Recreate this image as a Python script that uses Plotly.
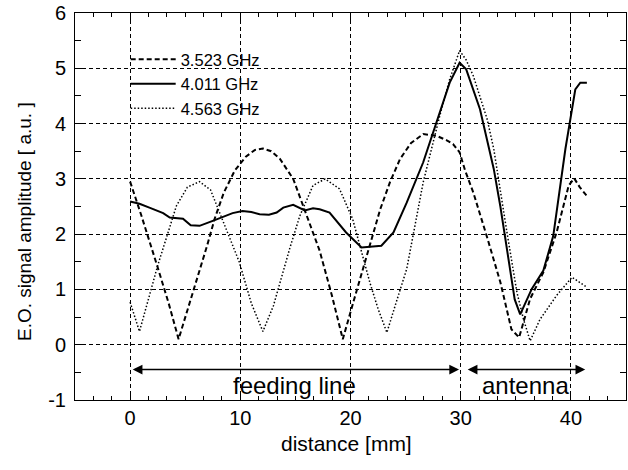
import plotly.graph_objects as go

# ---- data ----
x_3523 = [0.0, 1.0, 2.5, 3.5, 4.4, 5.2, 6.2, 7.0, 7.66, 8.5, 9.5, 10.5, 11.3, 12.05, 12.8, 13.6, 14.8, 16.0,
          17.2, 18.3, 19.3, 20.3, 21.45, 22.7, 23.6, 24.5, 25.5, 26.6, 27.8, 28.7, 29.3, 29.9, 30.4, 31.15,
          32.4, 33.6, 34.6, 35.3, 36.3, 37.5, 38.7, 39.8, 40.3, 40.8, 41.45]
y_3523 = [2.95, 2.35, 1.40, 0.75, 0.10, 0.62, 1.28, 1.80, 2.27, 2.75, 3.15, 3.40, 3.52, 3.55, 3.50, 3.36, 3.00, 2.33,
          1.70, 0.90, 0.10, 0.80, 1.61, 2.45, 2.95, 3.36, 3.65, 3.81, 3.78, 3.70, 3.63, 3.48, 3.15, 2.75,
          1.94, 1.13, 0.28, 0.13, 0.83, 1.31, 2.03, 2.88, 3.01, 2.85, 2.69]

x_4011 = [0.0, 0.85, 1.75, 3.0, 3.6, 4.8, 5.5, 6.3, 7.5, 8.5, 9.3, 10.2, 11.0, 11.75, 12.6, 13.3, 13.9, 14.8,
          15.85, 16.6, 17.2, 18.1, 19.6, 21.0, 22.8, 23.9, 25.1, 26.6, 27.8, 29.0, 29.9, 30.5, 31.75, 33.0,
          33.6, 34.3, 34.9, 35.4, 36.45, 37.5, 38.4, 39.5, 39.9, 40.4, 40.85, 41.45]
y_4011 = [2.59, 2.55, 2.48, 2.38, 2.30, 2.28, 2.16, 2.15, 2.24, 2.32, 2.38, 2.42, 2.40, 2.36, 2.35, 2.39, 2.48, 2.53,
          2.43, 2.47, 2.45, 2.39, 2.03, 1.76, 1.79, 2.03, 2.57, 3.30, 4.02, 4.74, 5.10, 4.98, 4.26, 3.18,
          2.50, 1.60, 0.82, 0.55, 1.01, 1.34, 1.97, 3.54, 4.02, 4.62, 4.74, 4.74]

x_4563 = [0.0, 0.85, 1.7, 2.5, 3.4, 4.2, 5.2, 6.3, 7.3, 8.5, 9.9, 11.0, 12.05, 13.0, 13.6, 14.5, 15.4, 16.6,
          17.7, 19.0, 20.2, 21.0, 21.75, 22.5, 23.3, 24.2, 25.1, 26.6, 28.1, 29.0, 29.9, 30.5, 31.15, 32.4,
          33.0, 34.2, 35.1, 35.7, 36.3, 37.2, 38.7, 40.1, 41.45]
y_4563 = [0.77, 0.24, 0.85, 1.43, 2.00, 2.51, 2.85, 2.95, 2.80, 2.20, 1.50, 0.75, 0.24, 0.70, 1.13, 1.75, 2.33, 2.88,
          3.00, 2.82, 2.27, 1.70, 1.13, 0.65, 0.22, 0.80, 1.37, 2.94, 4.14, 4.80, 5.32, 5.15, 4.86, 4.08,
          3.54, 2.03, 0.95, 0.46, 0.07, 0.46, 0.89, 1.22, 1.04]

series_names = ["3.523 GHz", "4.011 GHz", "4.563 GHz"]

x_ticks = [0, 10, 20, 30, 40]
y_ticks = [-1, 0, 1, 2, 3, 4, 5, 6]

region_labels = ["feeding line", "antenna"]
region_start = [0.1, 30.5]
region_end = [29.85, 41.3]
region_label_x = [14.9, 35.9]
arrow_y = -0.45
label_y = -0.73

FONT = "Liberation Sans, Arial, Helvetica, sans-serif"

fig = go.Figure()
fig.add_trace(go.Scatter(x=x_3523, y=y_3523, mode="lines", name=series_names[0],
                         line=dict(color="black", width=2, dash="5px,3px")))
fig.add_trace(go.Scatter(x=x_4011, y=y_4011, mode="lines", name=series_names[1],
                         line=dict(color="black", width=2)))
fig.add_trace(go.Scatter(x=x_4563, y=y_4563, mode="lines", name=series_names[2],
                         line=dict(color="black", width=1.5, dash="1.5px,2px")))

for lab, s, e, lx in zip(region_labels, region_start, region_end, region_label_x):
    fig.add_annotation(x=e, y=arrow_y, ax=s, ay=arrow_y, xref="x", yref="y", axref="x", ayref="y",
                       showarrow=True, arrowhead=2, startarrowhead=2, arrowside="end+start",
                       arrowsize=1.3, startarrowsize=1.3, arrowwidth=1.5, arrowcolor="black", text="")
    fig.add_annotation(x=lx, y=label_y, xref="x", yref="y", text=lab, showarrow=False,
                       font=dict(family=FONT, size=24, color="black"), xanchor="center", yanchor="middle")

fig.add_annotation(x=-0.0907, y=0.46, xref="paper", yref="paper", text="E.O. signal amplitude [ a.u. ]",
                   textangle=-90, showarrow=False, xanchor="center", yanchor="middle",
                   font=dict(family=FONT, size=19, color="black"))
fig.add_annotation(x=0.4936, y=-0.113, xref="paper", yref="paper", text="distance [mm]",
                   showarrow=False, xanchor="center", yanchor="middle",
                   font=dict(family=FONT, size=21, color="black"))

axis_common = dict(showline=True, linecolor="black", linewidth=1, mirror="ticks",
                   ticks="inside", ticklen=7, tickwidth=1, tickcolor="black",
                   showgrid=True, gridcolor="black", gridwidth=1, griddash="4px,3px",
                   zeroline=False, tickfont=dict(family=FONT, size=20, color="black"))

fig.update_xaxes(range=[-5, 45], tickvals=x_ticks, ticktext=[str(v) for v in x_ticks],
                 minor=dict(dtick=10 / 6, tick0=0, ticks="inside", ticklen=4, tickcolor="black", showgrid=False),
                 **axis_common)
fig.update_yaxes(range=[-1, 6], tickvals=y_ticks, ticktext=[str(v) for v in y_ticks],
                 minor=dict(dtick=0.5, tick0=0, ticks="inside", ticklen=6, tickcolor="black", showgrid=False),
                 ticklabelstandoff=4, **axis_common)

fig.update_layout(width=628, height=470, margin=dict(l=75, r=2, t=13, b=70),
                  paper_bgcolor="white", plot_bgcolor="white",
                  showlegend=True,
                  legend=dict(x=0.092, y=0.925, xanchor="left", yanchor="top", bgcolor="rgba(0,0,0,0)",
                              font=dict(family=FONT, size=16.5, color="black"), itemwidth=45,
                              tracegroupgap=0))

fig.write_html("out.html")
